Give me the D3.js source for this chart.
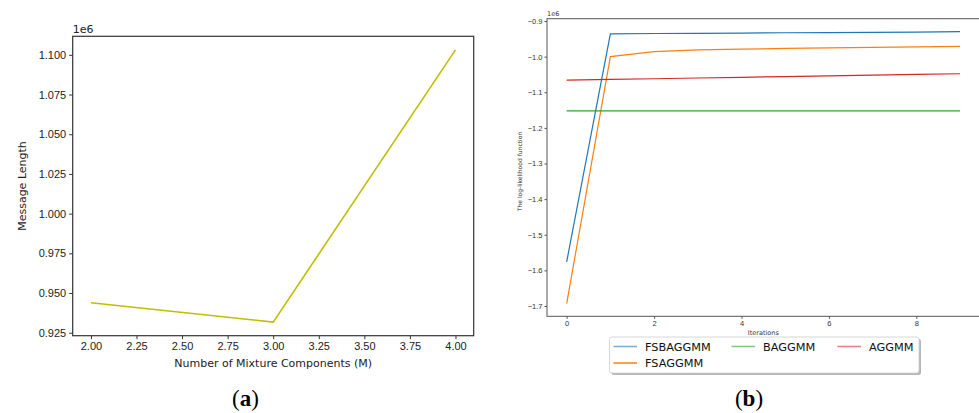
<!DOCTYPE html>
<html>
<head>
<meta charset="utf-8">
<script src="https://cdn.jsdelivr.net/npm/d3@7"></script>
<style>
  body { margin: 0; background: #fff; }
  svg { display: block; font-family: "DejaVu Sans", sans-serif; }
</style>
</head>
<body>
<svg width="979" height="413"></svg>
<script>
// panel (a) data
const components = [2, 3, 4]
const messageLength = [943900, 931700, 1103100]
const aTicksX = [2.0, 2.25, 2.5, 2.75, 3.0, 3.25, 3.5, 3.75, 4.0]
const aTicksY = [0.925, 0.95, 0.975, 1.0, 1.025, 1.05, 1.075, 1.1]

// panel (b) data
const iterations = [0, 1, 2, 3, 4, 5, 6, 7, 8, 9]
const fsbaggmm = [-1576000, -936000, -935000, -934500, -934000, -933000, -932500, -932000, -931000, -930000]
const fsaggmm = [-1693500, -1000000, -986000, -981000, -979000, -977000, -975500, -974000, -972500, -971000]
const baggmm = [-1152500, -1152500, -1152500, -1152500, -1152500, -1152500, -1152500, -1152500, -1152500, -1152500]
const aggmm = [-1066000, -1064000, -1062000, -1060000, -1058000, -1056000, -1054000, -1052000, -1050000, -1048000]
const seriesNames = ["FSBAGGMM", "FSAGGMM", "BAGGMM", "AGGMM"]
const seriesColors = ["#1f77b4", "#ff7f0e", "#2ca02c", "#d62728"]
const bTicksX = [0, 2, 4, 6, 8]
const bTicksY = [-1.7, -1.6, -1.5, -1.4, -1.3, -1.2, -1.1, -1.0, -0.9]

const svg = d3.select("svg")

// ---------- panel (a) ----------
const ma = {left: 72.7, top: 36.3, right: 473.7, bottom: 335.7}
const xa = d3.scaleLinear().domain([1.9, 4.1]).range([ma.left, ma.right])
const ya = d3.scaleLinear().domain([0.92314, 1.11167]).range([ma.bottom, ma.top])

const ga = svg.append("g")
ga.append("rect")
  .attr("x", ma.left).attr("y", ma.top)
  .attr("width", ma.right - ma.left).attr("height", ma.bottom - ma.top)
  .attr("fill", "none").attr("stroke", "#333").attr("stroke-width", 1.2)

ga.append("g")
  .attr("transform", `translate(0,${ma.bottom})`)
  .call(d3.axisBottom(xa).tickValues(aTicksX).tickFormat(d3.format(".2f")).tickSize(3.5).tickPadding(3))
  .call(g => g.select(".domain").remove())
  .call(g => g.selectAll("text").attr("font-size", 11).attr("fill", "#222"))
  .call(g => g.selectAll("line").attr("stroke", "#333"))

ga.append("g")
  .attr("transform", `translate(${ma.left},0)`)
  .call(d3.axisLeft(ya).tickValues(aTicksY).tickFormat(d3.format(".3f")).tickSize(3.5).tickPadding(3))
  .call(g => g.select(".domain").remove())
  .call(g => g.selectAll("text").attr("font-size", 11).attr("fill", "#222"))
  .call(g => g.selectAll("line").attr("stroke", "#333"))

ga.append("text").attr("x", ma.left).attr("y", 33)
  .attr("font-size", 11).attr("fill", "#222").text("1e6")

ga.append("text").attr("x", (ma.left + ma.right) / 2).attr("y", 367)
  .attr("text-anchor", "middle").attr("font-size", 11).attr("fill", "#222")
  .text("Number of Mixture Components (M)")

ga.append("text")
  .attr("transform", `translate(25.5,${(ma.top + ma.bottom) / 2}) rotate(-90)`)
  .attr("text-anchor", "middle").attr("font-size", 11).attr("fill", "#222")
  .text("Message Length")

ga.append("path")
  .datum(components.map((c, i) => [c, messageLength[i] / 1e6]))
  .attr("fill", "none").attr("stroke", "#bfbf00").attr("stroke-width", 1.6)
  .attr("d", d3.line().x(d => xa(d[0])).y(d => ya(d[1])))

// ---------- panel (b) ----------
const mb = {left: 547, top: 18.7, right: 979.7, bottom: 316.3}
const xb = d3.scaleLinear().domain([-0.45, 9.45]).range([mb.left, mb.right])
const yb = d3.scaleLinear().domain([-1.7289, -0.8935]).range([mb.bottom, mb.top])

const gb = svg.append("g")
gb.append("rect")
  .attr("x", mb.left).attr("y", mb.top)
  .attr("width", mb.right - mb.left).attr("height", mb.bottom - mb.top)
  .attr("fill", "none").attr("stroke", "#555").attr("stroke-width", 1)

gb.append("g")
  .attr("transform", `translate(0,${mb.bottom})`)
  .call(d3.axisBottom(xb).tickValues(bTicksX).tickFormat(d3.format("d")).tickSize(2.5).tickPadding(2))
  .call(g => g.select(".domain").remove())
  .call(g => g.selectAll("text").attr("font-size", 7.5).attr("fill", "#333"))
  .call(g => g.selectAll("line").attr("stroke", "#555"))

gb.append("g")
  .attr("transform", `translate(${mb.left},0)`)
  .call(d3.axisLeft(yb).tickValues(bTicksY).tickFormat(d3.format(".1f")).tickSize(2.5).tickPadding(2))
  .call(g => g.select(".domain").remove())
  .call(g => g.selectAll("text").attr("font-size", 7.5).attr("fill", "#333"))
  .call(g => g.selectAll("line").attr("stroke", "#555"))

gb.append("text").attr("x", mb.left).attr("y", 16)
  .attr("font-size", 6.5).attr("fill", "#333").text("1e6")

gb.append("text").attr("x", xb(4.5)).attr("y", 335)
  .attr("text-anchor", "middle").attr("font-size", 6.5).attr("fill", "#333")
  .text("Iterations")

gb.append("text")
  .attr("transform", `translate(522,${(mb.top + mb.bottom) / 2 + 4}) rotate(-90)`)
  .attr("text-anchor", "middle").attr("font-size", 6).attr("fill", "#333")
  .text("The log-likelihood function")

const seriesData = [fsbaggmm, fsaggmm, baggmm, aggmm]
const lineB = d3.line().x((d, i) => xb(iterations[i])).y(d => yb(d / 1e6))
gb.selectAll(".series")
  .data(seriesData)
  .join("path")
  .attr("class", "series")
  .attr("fill", "none")
  .attr("stroke", (d, i) => seriesColors[i])
  .attr("stroke-width", 1.2)
  .attr("d", lineB)

// legend
const leg = gb.append("g").attr("transform", "translate(609.5,337)")
const legW = 309.5, legH = 36
leg.append("rect").attr("x", 2).attr("y", 2).attr("width", legW).attr("height", legH)
  .attr("rx", 2.5).attr("fill", "#999").attr("opacity", 0.7)
leg.append("rect").attr("width", legW).attr("height", legH)
  .attr("rx", 2.5).attr("fill", "#fff").attr("stroke", "#ccc").attr("stroke-width", 0.8)

const legPos = [[4, 9.5], [4, 26], [122, 9.5], [228, 9.5]]
seriesNames.forEach((name, i) => {
  const [lx, ly] = legPos[i]
  leg.append("line").attr("x1", lx).attr("x2", lx + 23.5).attr("y1", ly).attr("y2", ly)
    .attr("stroke", seriesColors[i]).attr("stroke-width", 1.5)
    .attr("opacity", i === 1 ? 1 : 0.6)
  leg.append("text").attr("x", lx + 31.5).attr("y", ly + 4)
    .attr("font-size", 11.3).attr("fill", "#111").text(name)
})

// panel captions
const capFont = "'Liberation Serif', 'DejaVu Serif', serif"
svg.append("text").attr("x", 245.5).attr("y", 406)
  .attr("text-anchor", "middle").attr("font-family", capFont).attr("font-size", 23)
  .html("(<tspan font-weight='bold'>a</tspan>)")
svg.append("text").attr("x", 749).attr("y", 406)
  .attr("text-anchor", "middle").attr("font-family", capFont).attr("font-size", 23)
  .html("(<tspan font-weight='bold'>b</tspan>)")
</script>
</body>
</html>
